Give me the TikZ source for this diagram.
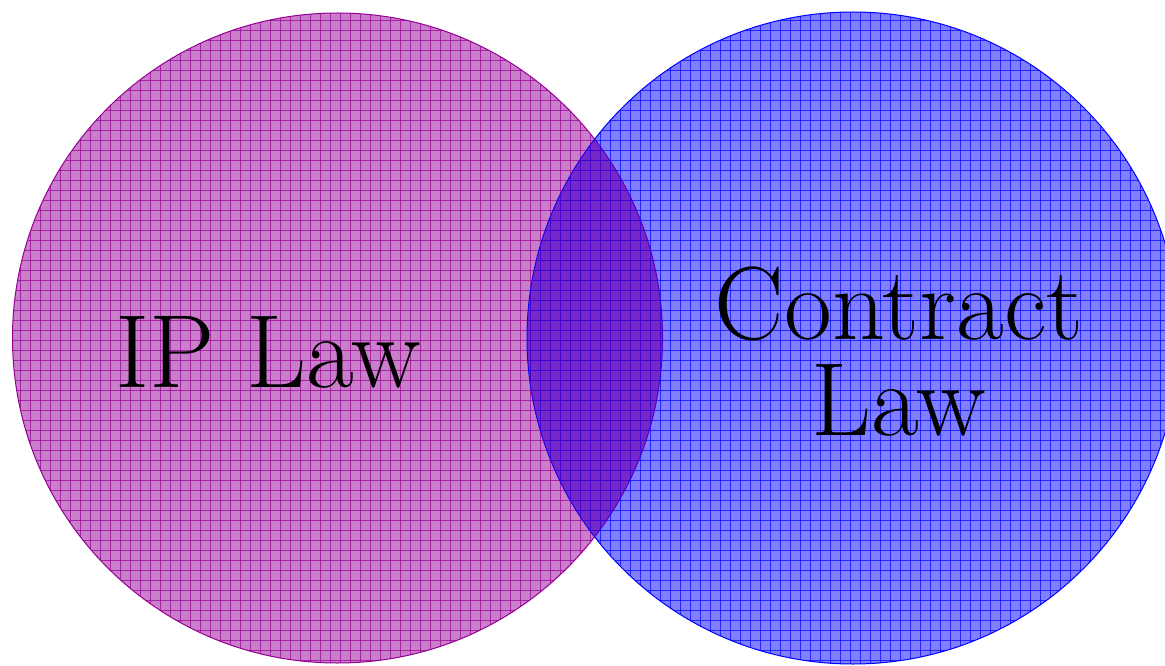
\documentclass[tikz,border=0pt]{standalone}
\definecolor{ipcol}{RGB}{150,0,150}
\definecolor{ctcol}{RGB}{0,0,255}
\begin{document}
\begin{tikzpicture}[x=1pt,y=-1pt,
  ipfill/.style={fill=ipcol,fill opacity=0.5},
  ctfill/.style={fill=ctcol,fill opacity=0.5},
  ipgrid/.style={draw=ipcol,line width=0.8pt,opacity=0.7},
  ctgrid/.style={draw=ctcol,line width=0.8pt,opacity=0.7},
  lbl/.style={font=\fontsize{104}{96}\selectfont,align=center,text=black}]
\useasboundingbox (0,0) rectangle (1165,666);
\fill[white] (0,0) rectangle (1165,666);
\coordinate (ipc) at (337.5,338);
\coordinate (ctc) at (853,338);
% IP Law circle
\fill[ipfill] (ipc) circle (325);
\begin{scope}
\clip (ipc) circle (325);
\foreach \i in {0,10,...,670} {\draw[ipgrid] (\i,0) -- (\i,670);}
\foreach \j in {0,10,...,670} {\draw[ipgrid] (0,\j) -- (670,\j);}
\end{scope}
\draw[draw=ipcol,line width=1pt] (ipc) circle (325);
% Contract Law circle
\fill[ctfill] (ctc) circle (326);
\begin{scope}
\clip (ctc) circle (326);
\foreach \i in {520,530,...,1180} {\draw[ctgrid] (\i,0) -- (\i,670);}
\foreach \j in {0,10,...,670} {\draw[ctgrid] (520,\j) -- (1180,\j);}
\end{scope}
\draw[draw=ctcol,line width=1pt] (ctc) circle (326);
% overlap tint
\begin{scope}
\clip (ipc) circle (325);
\fill[ipcol,fill opacity=0.35] (ctc) circle (326);
\end{scope}
\node[lbl] (ip) at (268,352) {IP Law};
\node[lbl] (ct) at (899,352) {Contract\\Law};
\end{tikzpicture}
\end{document}
